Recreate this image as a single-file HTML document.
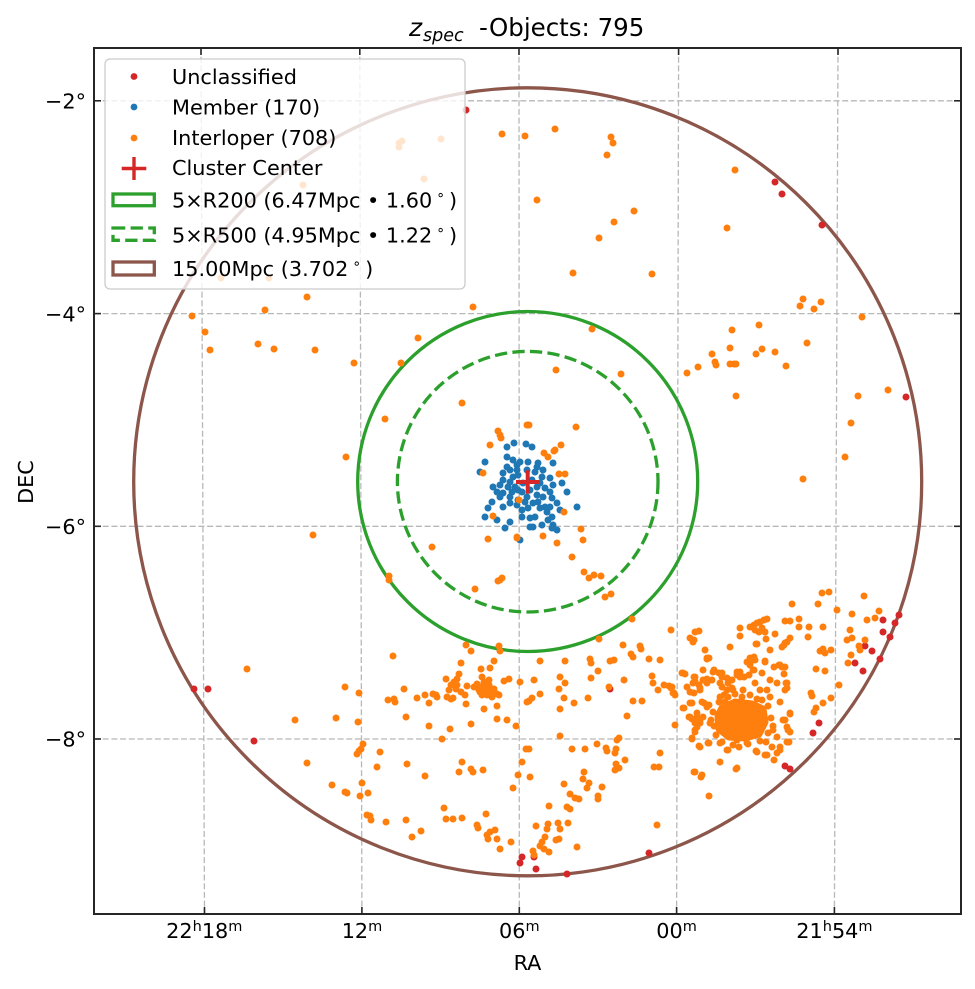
<!DOCTYPE html>
<html><head><meta charset="utf-8"><style>
html,body{margin:0;padding:0;background:#fff;}
svg{display:block;}
text{font-family:"DejaVu Sans","Liberation Sans",sans-serif;fill:#000;}
</style></head><body>
<svg width="975" height="989" viewBox="0 0 975 989" xmlns="http://www.w3.org/2000/svg">
<rect width="975" height="989" fill="#fff"/>
<defs><clipPath id="ax"><rect x="94" y="48" width="867" height="866"/></clipPath></defs>
<g clip-path="url(#ax)">
<g stroke="#b8b8b8" stroke-width="1.3" stroke-dasharray="6 2.7" fill="none">
<line x1="201" y1="48" x2="204.5" y2="914"/>
<line x1="359.8" y1="48" x2="361.9" y2="914"/>
<line x1="519" y1="48" x2="519.3" y2="914"/>
<line x1="678.6" y1="48" x2="676.6" y2="914"/>
<line x1="838" y1="48" x2="834.4" y2="914"/>
<line x1="94" y1="100.8" x2="961" y2="100.8"/>
<line x1="94" y1="313.6" x2="961" y2="313.6"/>
<line x1="94" y1="526.3" x2="961" y2="526.3"/>
<line x1="94" y1="739" x2="961" y2="739"/>
</g>
<circle cx="527.7" cy="481.8" r="394" fill="none" stroke="#8c564b" stroke-width="3.3"/>
<circle cx="527.7" cy="481.5" r="170" fill="none" stroke="#2ca02c" stroke-width="3.3"/>
<circle cx="527.7" cy="481.7" r="130.3" fill="none" stroke="#2ca02c" stroke-width="3.3" stroke-dasharray="12.3 5.3"/>
<path fill="none" stroke="#d62728" stroke-width="7" stroke-linecap="round" d="M466 110h0M775 182h0M782 194h0M822 225h0M906 397h0M194 689h0M208 689h0M254 741h0M522 857h0M520 863h0M534 857h0M536 869h0M567 874h0M649 853h0M610 689h0M785 766h0M790 769h0M819 723h0M813 733h0M883 620h0M899 615h0M895 623h0M883 632h0M890 637h0M865 646h0M872 651h0M855 663h0M863 671h0M880 659h0"/>
<path fill="none" stroke="#1f77b4" stroke-width="7" stroke-linecap="round" d="M485 462h0M480 472h0M507 447h0M514 443h0M526 444h0M532 447h0M507 457h0M513 460h0M520 462h0M528 462h0M538 463h0M543 470h0M553 463h0M503 473h0M510 470h0M517 470h0M527 470h0M535 472h0M542 477h0M550 478h0M553 485h0M562 483h0M567 492h0M503 480h0M510 482h0M515 487h0M493 487h0M497 492h0M503 493h0M512 492h0M522 492h0M530 490h0M537 495h0M543 497h0M552 498h0M557 503h0M492 502h0M488 508h0M485 517h0M497 520h0M503 507h0M510 503h0M518 500h0M522 510h0M522 517h0M530 518h0M535 517h0M540 508h0M545 507h0M547 512h0M548 520h0M542 525h0M530 527h0M553 525h0M557 530h0M510 522h0M505 528h0M520 540h0M577 507h0M560 510h0M525 502h0M533 503h0M538 502h0M550 507h0M518 490h0M510 497h0M500 485h0M507 467h0M518 475h0M532 480h0M545 488h0M513 477h0M523 483h0M537 487h0M508 487h0M527 497h0M517 505h0M528 508h0M550 492h0M540 483h0M517 465h0M537 467h0M500 497h0M552 517h0M533 527h0M552 528h0"/>
<path fill="#ff7f0e" stroke="#ff7f0e" stroke-width="7" stroke-linejoin="round" d="M722 708L735 702L752 704L763 709L765 722L759 734L745 738L729 737L719 729L718 716Z"/>
<path fill="none" stroke="#ff7f0e" stroke-width="7" stroke-linecap="round" d="M502 134h0M525 136h0M555 129h0M611 137h0M613 143h0M607 155h0M735 170h0M537 200h0M634 211h0M614 222h0M599 238h0M727 228h0M573 273h0M652 274h0M803 299h0M800 306h0M821 302h0M814 309h0M862 317h0M759 325h0M732 330h0M592 329h0M807 343h0M730 348h0M762 349h0M756 354h0M775 352h0M712 354h0M715 362h0M716 365h0M730 364h0M734 364h0M736 364h0M698 367h0M687 373h0M786 366h0M556 370h0M621 374h0M736 396h0M888 390h0M858 396h0M851 423h0M576 427h0M529 425h0M845 457h0M803 479h0M561 445h0M555 450h0M544 453h0M548 457h0M559 474h0M565 474h0
M307 297h0M265 310h0M192 316h0M473 307h0M205 332h0M210 350h0M258 344h0M274 349h0M315 350h0M354 363h0M418 338h0M401 363h0M462 403h0M385 419h0M346 457h0M498 431h0M500 435h0M501 438h0M490 445h0M527 425h0M483 473h0
M399 143h0M402 141h0M399 147h0M441 139h0M424 179h0M303 185h0M221 278h0M269 278h0
M528 425h0M554 451h0M561 445h0M519 500h0M564 512h0M493 516h0M581 529h0M583 540h0M572 557h0M557 543h0M543 536h0M517 537h0M488 539h0
M313 535h0M432 547h0M517 538h0M389 576h0M389 580h0M500 580h0M502 578h0M498 581h0M475 589h0M393 656h0M466 645h0M471 651h0M499 646h0M500 651h0M461 663h0M494 661h0M481 669h0M490 668h0M247 669h0M345 687h0M359 693h0M404 689h0M388 700h0M395 702h0M394 699h0M417 698h0M425 695h0M429 703h0M433 694h0M436 695h0M437 697h0M446 679h0
M451 685h0M454 682h0M457 679h0M459 674h0M456 689h0M451 699h0M447 697h0M453 698h0M461 692h0M465 695h0M466 704h0M467 686h0M457 685h0M449 690h0
M477 684h0M481 687h0M484 682h0M486 690h0M489 685h0M491 692h0M494 689h0M482 695h0M487 695h0M492 697h0M497 694h0M479 690h0M474 687h0M489 680h0M499 695h0M482 677h0M485 687h0M490 688h0M480 692h0
M504 681h0M509 679h0M520 682h0M527 702h0M484 709h0M497 706h0M295 720h0M336 718h0M358 722h0M406 717h0M429 726h0M450 729h0M471 724h0M497 719h0M507 720h0M516 726h0M442 739h0M363 744h0M361 749h0M357 754h0M359 751h0M380 752h0M307 763h0M407 764h0M377 767h0M462 762h0M471 769h0M473 772h0M459 772h0M483 770h0M425 776h0M518 775h0M522 762h0M526 749h0M362 783h0M332 785h0M345 792h0M347 793h0M360 796h0M368 793h0M513 788h0M444 808h0M486 814h0M367 815h0M370 816h0M371 820h0M386 822h0M406 820h0M446 819h0M453 819h0M462 818h0M477 825h0M478 828h0M490 832h0M495 830h0M487 835h0M421 831h0M412 837h0M488 839h0M497 839h0M511 842h0M500 849h0
M584 572h0M589 578h0M594 575h0M601 576h0M605 597h0M611 594h0M632 619h0M599 639h0M671 630h0M623 645h0M640 646h0M641 649h0M633 657h0M631 654h0M649 659h0M660 660h0M610 661h0M614 660h0M590 659h0M591 663h0M565 661h0M540 661h0M598 671h0M560 677h0M565 683h0M534 680h0M652 676h0M653 683h0M624 680h0M591 678h0M609 687h0M559 689h0M564 698h0M540 694h0M532 698h0M529 701h0M574 703h0M588 698h0M633 701h0M642 701h0M560 709h0M627 716h0M658 690h0M664 685h0M669 686h0M671 688h0M674 693h0M675 695h0M560 736h0M529 749h0M572 749h0M585 749h0M597 744h0M606 748h0M607 751h0M617 740h0M619 738h0M616 749h0M615 753h0M660 753h0M625 760h0M616 764h0M615 770h0M619 768h0M654 767h0M659 767h0M530 777h0M584 772h0M583 779h0M589 783h0M564 784h0M602 787h0M587 788h0M570 794h0M575 798h0M579 799h0M598 796h0M598 799h0M549 806h0M567 807h0M570 809h0M558 823h0M568 823h0M536 826h0M548 824h0M547 829h0M560 829h0M545 837h0M542 842h0M540 846h0M544 849h0M549 852h0M556 840h0M559 839h0M577 847h0M657 825h0M533 851h0M534 855h0
M699 631h0M695 632h0M690 638h0M694 640h0M705 650h0M707 659h0M709 658h0M730 647h0M740 628h0M740 636h0M750 627h0M754 625h0M757 623h0M760 622h0M764 620h0M767 619h0M755 630h0M759 632h0M762 628h0M765 632h0M766 639h0M775 634h0M785 621h0M790 621h0M799 619h0M799 627h0M809 627h0M792 604h0M822 593h0M829 592h0M818 604h0M837 610h0M823 627h0M808 637h0M790 638h0M787 642h0M784 645h0M782 647h0M770 650h0M756 644h0M765 661h0M750 658h0M754 657h0M755 660h0M750 665h0M754 670h0M747 662h0M774 667h0M779 665h0M782 667h0M784 674h0M786 683h0M787 688h0M790 714h0M785 720h0M787 727h0M790 732h0M789 742h0M780 750h0M777 753h0M774 760h0M767 755h0M756 751h0M736 769h0M727 750h0M720 762h0M709 743h0M699 746h0M692 739h0M694 772h0M701 777h0M709 796h0M695 732h0M697 727h0M684 708h0M690 703h0M682 673h0M685 674h0
M694 677h0M695 681h0M699 685h0M703 680h0M707 679h0M712 680h0M687 687h0M690 692h0M694 693h0M700 688h0M704 703h0M707 707h0M709 705h0M689 717h0M692 719h0M697 717h0M700 722h0M695 723h0M714 670h0M719 673h0M722 677h0M727 678h0M732 680h0M737 675h0M740 672h0M744 677h0M749 675h0M722 687h0M727 690h0M732 688h0
M713 712h0M711 720h0M716 735h0M722 742h0M733 745h0M748 744h0M760 741h0M768 733h0M771 718h0M768 706h0M757 699h0M742 697h0M728 697h0M719 702h0M714 726h0M739 747h0M766 742h0M773 726h0M762 700h0M750 695h0M735 694h0M724 695h0
M820 651h0M823 649h0M825 653h0M831 650h0M816 669h0M825 671h0M839 685h0M811 693h0M812 696h0M831 698h0M823 703h0M816 708h0M814 712h0M852 614h0M864 596h0M879 611h0M867 620h0M875 618h0M850 630h0M865 640h0M847 640h0M852 638h0M859 646h0M860 650h0M851 655h0M848 663h0
M693 642h0M730 647h0M757 644h0M785 643h0M705 650h0M707 658h0M770 650h0M752 658h0M750 663h0M765 662h0M780 665h0M785 667h0M683 673h0M695 677h0M703 670h0M713 672h0M722 673h0M737 672h0M740 677h0M753 670h0M762 673h0M770 680h0M777 683h0M787 683h0M785 690h0M672 687h0M673 693h0M687 687h0M693 683h0M700 690h0M707 683h0M720 683h0M728 683h0M733 690h0M743 690h0M755 683h0M760 690h0M767 690h0M770 697h0M780 702h0M683 708h0M692 703h0M702 702h0M707 705h0M720 697h0M725 702h0M790 713h0M690 717h0M697 713h0M703 717h0M700 723h0M710 723h0M695 730h0M692 738h0M700 747h0M708 743h0M720 743h0M728 750h0M737 740h0M747 743h0M757 752h0M765 755h0M772 747h0M780 747h0M787 742h0M788 730h0M783 720h0M773 730h0M777 737h0M720 762h0M737 768h0M695 772h0M702 775h0M675 725h0"/>
<g stroke="#d62728" stroke-width="4"><line x1="516" y1="482" x2="539.5" y2="482"/><line x1="527.7" y1="470.3" x2="527.7" y2="493.7"/></g>
</g>
<rect x="94" y="48" width="867" height="866" fill="none" stroke="#262626" stroke-width="2"/>
<g stroke="#262626" stroke-width="1.6">
<line x1="204.5" y1="914" x2="204.5" y2="907"/><line x1="361.9" y1="914" x2="361.9" y2="907"/><line x1="519.3" y1="914" x2="519.3" y2="907"/><line x1="676.6" y1="914" x2="676.6" y2="907"/><line x1="834.4" y1="914" x2="834.4" y2="907"/>
<line x1="201" y1="48" x2="201" y2="55"/><line x1="359.8" y1="48" x2="359.8" y2="55"/><line x1="519" y1="48" x2="519" y2="55"/><line x1="678.6" y1="48" x2="678.6" y2="55"/><line x1="838" y1="48" x2="838" y2="55"/>
<line x1="94" y1="100.8" x2="101" y2="100.8"/><line x1="94" y1="313.6" x2="101" y2="313.6"/><line x1="94" y1="526.3" x2="101" y2="526.3"/><line x1="94" y1="739" x2="101" y2="739"/>
<line x1="961" y1="100.8" x2="954" y2="100.8"/><line x1="961" y1="313.6" x2="954" y2="313.6"/><line x1="961" y1="526.3" x2="954" y2="526.3"/><line x1="961" y1="739" x2="954" y2="739"/>
</g>
<rect x="105" y="59" width="360" height="230" rx="5" ry="5" fill="#fff" fill-opacity="0.8" stroke="#cccccc" stroke-width="1.3"/>
<circle cx="134" cy="76.5" r="3.4" fill="#d62728"/>
<circle cx="134" cy="107" r="3.4" fill="#1f77b4"/>
<circle cx="134" cy="138" r="3.4" fill="#ff7f0e"/>
<g stroke="#d62728" stroke-width="3.4"><line x1="121.7" y1="168.5" x2="146.3" y2="168.5"/><line x1="134" y1="157" x2="134" y2="180"/></g>
<rect x="113" y="194" width="41.3" height="11.7" fill="none" stroke="#2ca02c" stroke-width="3.3"/>
<rect x="113" y="228" width="41.3" height="12.3" fill="none" stroke="#2ca02c" stroke-width="3.3" stroke-dasharray="12.3 5.3"/>
<rect x="113" y="262" width="41.3" height="13" fill="none" stroke="#8c564b" stroke-width="3.3"/>
<g font-size="20.8">
<text x="172" y="84">Unclassified</text>
<text x="172" y="114.5">Member (170)</text>
<text x="172" y="145">Interloper (708)</text>
<text x="172" y="175">Cluster Center</text>
<text x="172" y="207.5">5×R200 (6.47Mpc • 1.60<tspan font-size="14" dx="4" dy="-8">∘</tspan><tspan dx="4" dy="8">)</tspan></text>
<text x="172" y="242.5">5×R500 (4.95Mpc • 1.22<tspan font-size="14" dx="4" dy="-8">∘</tspan><tspan dx="4" dy="8">)</tspan></text>
<text x="172" y="276">15.00Mpc (3.702<tspan font-size="14" dx="4" dy="-8">∘</tspan><tspan dx="4" dy="8">)</tspan></text>
</g>
<g font-size="20.8" text-anchor="end">
<text x="86" y="108.5">−2°</text>
<text x="86" y="321.3">−4°</text>
<text x="86" y="534">−6°</text>
<text x="86" y="746.7">−8°</text>
</g>
<g font-size="20.8" text-anchor="middle">
<text x="204.3" y="938">22<tspan font-size="14.5" dy="-7">h</tspan><tspan dy="7">18</tspan><tspan font-size="14.5" dy="-7">m</tspan></text>
<text x="362" y="938">12<tspan font-size="14.5" dy="-7">m</tspan></text>
<text x="519.3" y="938">06<tspan font-size="14.5" dy="-7">m</tspan></text>
<text x="676.6" y="938">00<tspan font-size="14.5" dy="-7">m</tspan></text>
<text x="834.4" y="938">21<tspan font-size="14.5" dy="-7">h</tspan><tspan dy="7">54</tspan><tspan font-size="14.5" dy="-7">m</tspan></text>
</g>
<text x="527.5" y="970" font-size="20.8" text-anchor="middle">RA</text>
<text transform="translate(33,482) rotate(-90)" font-size="20.8" text-anchor="middle">DEC</text>
<text y="36"><tspan x="409" font-style="italic" font-size="25">z</tspan><tspan x="423" dy="5" font-style="italic" font-size="17.5">spec</tspan><tspan x="479" dy="-5" font-size="24.5">-</tspan><tspan x="489" font-size="24.5">Objects: 795</tspan></text>
</svg>
</body></html>
